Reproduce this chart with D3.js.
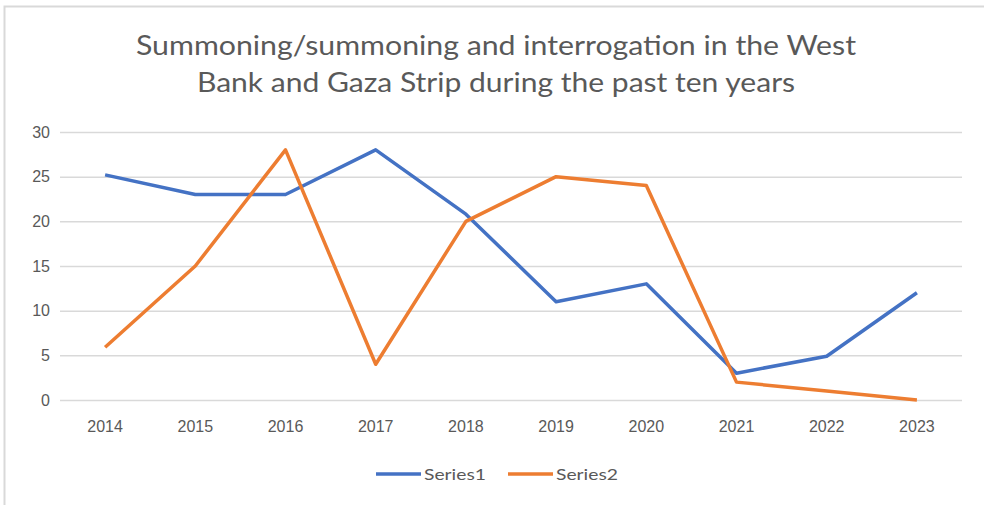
<!DOCTYPE html>
<html>
<head>
<meta charset="utf-8">
<script src="https://cdn.jsdelivr.net/npm/d3@7"></script>
<style>
  body { margin: 0; background: #fff; }
  svg { display: block; font-family: Lato, "Open Sans", sans-serif; }
</style>
</head>
<body>
<svg id="chart" width="984" height="505"></svg>
<script>
// chart values
const years = ["2014", "2015", "2016", "2017", "2018", "2019", "2020", "2021", "2022", "2023"];
const series1 = [25.2, 23, 23, 28, 20.8, 11, 13, 3, 4.9, 12];
const series2 = [5.9, 15, 28, 4, 20, 25, 24, 2, 1, 0];
const yTicks = [0, 5, 10, 15, 20, 25, 30];
const seriesNames = ["Series1", "Series2"];
const titleLines = ["Summoning/summoning and interrogation in the West",
                    "Bank and Gaza Strip during the past ten years"];

const colors = d3.scaleOrdinal().domain(seriesNames).range(["#4472C4", "#ED7D31"]);

let svg = d3.select("#chart");
let margin = { top: 132, right: 22, bottom: 105, left: 60 },
    width = 984 - margin.left - margin.right,
    height = 505 - margin.top - margin.bottom;

// outer frame (top and left edges visible)
svg.append("path")
    .attr("d", "M4.5,505 V6.5 H984")
    .attr("fill", "none")
    .attr("stroke", "#d9d9d9")
    .attr("stroke-width", 2);

// title
svg.selectAll("text.title")
    .data(titleLines)
    .join("text")
    .attr("class", "title")
    .attr("x", 496)
    .attr("y", (d, i) => 55 + i * 37)
    .attr("text-anchor", "middle")
    .attr("fill", "#595959")
    .style("font-size", "26px")
    .attr("textLength", (d, i) => i == 0 ? 720 : 598)
    .attr("lengthAdjust", "spacingAndGlyphs")
    .text(d => d);

let chart = svg.append("g")
    .attr("transform", "translate(" + margin.left + "," + margin.top + ")");

let xScale = d3.scaleBand()
    .domain(years)
    .range([0, width]);
let yScale = d3.scaleLinear()
    .domain([0, 30])
    .range([height, 0]);

// gridlines + y labels
let yAxis = chart.append("g")
    .attr("class", "axis axis-y")
    .call(d3.axisLeft(yScale).tickValues(yTicks).tickSize(-width).tickPadding(10));
yAxis.select(".domain").remove();
yAxis.selectAll(".tick line").attr("stroke", "#d9d9d9").attr("stroke-width", 1.5);
yAxis.selectAll(".tick text")
    .attr("fill", "#595959")
    .style("font-size", "16px");

// x labels
let xAxis = chart.append("g")
    .attr("class", "axis axis-x")
    .attr("transform", "translate(0," + height + ")")
    .call(d3.axisBottom(xScale).tickSize(0).tickPadding(21));
xAxis.select(".domain").remove();
xAxis.selectAll(".tick text")
    .attr("fill", "#595959")
    .style("font-size", "16px");

// lines
let seriesData = [series1, series2];
let line = d3.line()
    .x((d, i) => xScale(years[i]) + xScale.bandwidth() / 2)
    .y(d => yScale(d));

chart.selectAll("path.series")
    .data(seriesData)
    .join("path")
    .attr("class", "series")
    .attr("d", d => line(d))
    .attr("fill", "none")
    .attr("stroke", (d, i) => colors(seriesNames[i]))
    .attr("stroke-width", 3.5)
    .attr("stroke-linejoin", "round");

// legend
let legend = svg.append("g").attr("transform", "translate(376,474)");
let items = legend.selectAll("g")
    .data(seriesNames)
    .join("g")
    .attr("transform", (d, i) => "translate(" + i * 132 + ",0)");
items.append("line")
    .attr("x1", 0).attr("x2", 45)
    .attr("stroke", d => colors(d))
    .attr("stroke-width", 3.5);
items.append("text")
    .attr("x", 48)
    .attr("y", 6)
    .attr("fill", "#595959")
    .style("font-size", "16px")
    .attr("textLength", 62)
    .attr("lengthAdjust", "spacingAndGlyphs")
    .text(d => d);
</script>
</body>
</html>
